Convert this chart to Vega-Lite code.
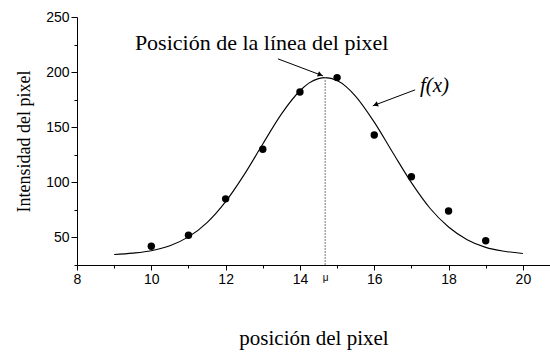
{
  "$schema": "https://vega.github.io/schema/vega-lite/v6.json",
  "width": 473,
  "height": 248,
  "autosize": {"type": "none"},
  "padding": {"left": 77, "top": 17, "right": 0, "bottom": 90},
  "background": "white",
  "config": {"view": {"stroke": null}, "axis": {"labelOverlap": false, "grid": false}},
  "resolve": {"axis": {"x": "independent", "y": "independent"}},
  "datasets": {
    "points": [
      {"x": 10, "y": 42}, {"x": 11, "y": 52}, {"x": 12, "y": 85}, {"x": 13, "y": 130},
      {"x": 14, "y": 182}, {"x": 15, "y": 195}, {"x": 16, "y": 143}, {"x": 17, "y": 105},
      {"x": 18, "y": 74}, {"x": 19, "y": 47}
    ],
    "curve": [
      {"x": 9.0, "y": 34.5}, {"x": 9.5, "y": 35.8}, {"x": 10.0, "y": 38.0}, {"x": 10.5, "y": 42.5},
      {"x": 11.0, "y": 50.5}, {"x": 11.5, "y": 63.5}, {"x": 12.0, "y": 82.5}, {"x": 12.5, "y": 107.0},
      {"x": 13.0, "y": 134.8}, {"x": 13.5, "y": 161.9}, {"x": 14.0, "y": 183.1}, {"x": 14.25, "y": 190.2},
      {"x": 14.5, "y": 194.1}, {"x": 14.68, "y": 195.0}, {"x": 15.0, "y": 192.3}, {"x": 15.25, "y": 186.6},
      {"x": 15.5, "y": 178.0}, {"x": 16.0, "y": 154.6}, {"x": 16.5, "y": 126.9}, {"x": 17.0, "y": 99.7},
      {"x": 17.5, "y": 76.5}, {"x": 18.0, "y": 59.5}, {"x": 18.5, "y": 48.0}, {"x": 19.0, "y": 41.0},
      {"x": 19.5, "y": 37.5}, {"x": 20.0, "y": 35.5}
    ],
    "mu": [{"x": 14.68, "y": 25, "y2": 195}],
    "arrows": [
      {"name": "a1", "x": 13.41, "y": 212.0, "x2": 14.62, "y2": 196.6},
      {"name": "a2", "x": 17.10, "y": 183.9, "x2": 15.96, "y2": 169.4}
    ],
    "head1": [{"x": 14.546, "y": 197.6}],
    "head2": [{"x": 16.035, "y": 170.4}],
    "label1": [{"x": 12.97, "y": 226.4, "text": "Posición de la línea del pixel"}],
    "label2": [{"x": 17.23, "y": 187.5, "text": "f(x)"}]
  },
  "layer": [
    {
      "data": {"name": "curve"},
      "mark": {"type": "line", "color": "black", "strokeWidth": 1.1, "interpolate": "monotone"},
      "encoding": {
        "x": {
          "field": "x", "type": "quantitative",
          "scale": {"domain": [8, 20.73], "nice": false, "zero": false},
          "axis": {
            "orient": "bottom",
            "title": "posición del pixel",
            "values": [8, 10, 12, 14, 14.68, 16, 18, 20],
            "labelExpr": "abs(datum.value-14.68)<0.01 ? 'μ' : datum.label",
            "labelFontSize": {"condition": {"test": "abs(datum.value-14.68)<0.01", "value": 10}, "value": 14},
            "tickOpacity": {"condition": {"test": "abs(datum.value-14.68)<0.01", "value": 0}, "value": 1},
            "tickSize": 5,
            "labelFont": "Liberation Sans",
            "labelColor": "black",
            "labelPadding": 2,
            "labelOverlap": false,
            "labelFlush": false,
            "domainColor": "black",
            "tickColor": "black",
            "titleFont": "Liberation Serif",
            "titleFontSize": 21,
            "titleFontWeight": "normal",
            "titleColor": "black",
            "titlePadding": 41
          }
        },
        "y": {
          "field": "y", "type": "quantitative",
          "scale": {"domain": [25, 250], "nice": false, "zero": false},
          "axis": {
            "orient": "left",
            "title": "Intensidad del pixel",
            "values": [50, 100, 150, 200, 250],
            "tickSize": 6,
            "labelFont": "Liberation Sans",
            "labelFontSize": 14,
            "labelColor": "black",
            "labelPadding": 2,
            "labelOverlap": false,
            "domainColor": "black",
            "tickColor": "black",
            "titleFont": "Liberation Serif",
            "titleFontSize": 18,
            "titleFontWeight": "normal",
            "titleColor": "black",
            "titlePadding": 12
          }
        }
      }
    },
    {
      "data": {"name": "points"},
      "mark": {"type": "point", "filled": true, "color": "black", "size": 55, "opacity": 1},
      "encoding": {
        "x": {
          "field": "x", "type": "quantitative",
          "axis": {
            "orient": "bottom", "title": null, "labels": false, "domain": false,
            "values": [9, 11, 13, 15, 17, 19], "tickSize": 3, "tickColor": "black"
          }
        },
        "y": {
          "field": "y", "type": "quantitative",
          "axis": {
            "orient": "left", "title": null, "labels": false, "domain": false,
            "values": [25, 75, 125, 175, 225], "tickSize": 3, "tickColor": "black"
          }
        }
      }
    },
    {
      "mark": {"type": "rule", "color": "#555555", "strokeWidth": 1},
      "encoding": {"y": {"datum": 250, "axis": null}}
    },
    {
      "data": {"name": "mu"},
      "mark": {"type": "rule", "color": "#999999", "strokeWidth": 1.3, "strokeDash": [2, 1]},
      "encoding": {
        "x": {"field": "x", "type": "quantitative", "axis": null},
        "y": {"field": "y", "type": "quantitative", "axis": null},
        "y2": {"field": "y2"}
      }
    },
    {
      "data": {"name": "arrows"},
      "mark": {"type": "rule", "color": "black", "strokeWidth": 1},
      "encoding": {
        "x": {"field": "x", "type": "quantitative", "axis": null},
        "y": {"field": "y", "type": "quantitative", "axis": null},
        "x2": {"field": "x2"},
        "y2": {"field": "y2"}
      }
    },
    {
      "data": {"name": "head1"},
      "mark": {"type": "point", "shape": "triangle-up", "filled": true, "color": "black", "size": 30, "angle": 110.7, "opacity": 1},
      "encoding": {
        "x": {"field": "x", "type": "quantitative", "axis": null},
        "y": {"field": "y", "type": "quantitative", "axis": null}
      }
    },
    {
      "data": {"name": "head2"},
      "mark": {"type": "point", "shape": "triangle-up", "filled": true, "color": "black", "size": 30, "angle": 249.3, "opacity": 1},
      "encoding": {
        "x": {"field": "x", "type": "quantitative", "axis": null},
        "y": {"field": "y", "type": "quantitative", "axis": null}
      }
    },
    {
      "data": {"name": "label1"},
      "mark": {"type": "text", "font": "Liberation Serif", "fontSize": 22, "color": "black", "align": "center", "baseline": "middle"},
      "encoding": {
        "x": {"field": "x", "type": "quantitative", "axis": null},
        "y": {"field": "y", "type": "quantitative", "axis": null},
        "text": {"field": "text"}
      }
    },
    {
      "data": {"name": "label2"},
      "mark": {"type": "text", "font": "Liberation Serif", "fontSize": 21, "fontStyle": "italic", "color": "black", "align": "left", "baseline": "middle"},
      "encoding": {
        "x": {"field": "x", "type": "quantitative", "axis": null},
        "y": {"field": "y", "type": "quantitative", "axis": null},
        "text": {"field": "text"}
      }
    }
  ]
}
